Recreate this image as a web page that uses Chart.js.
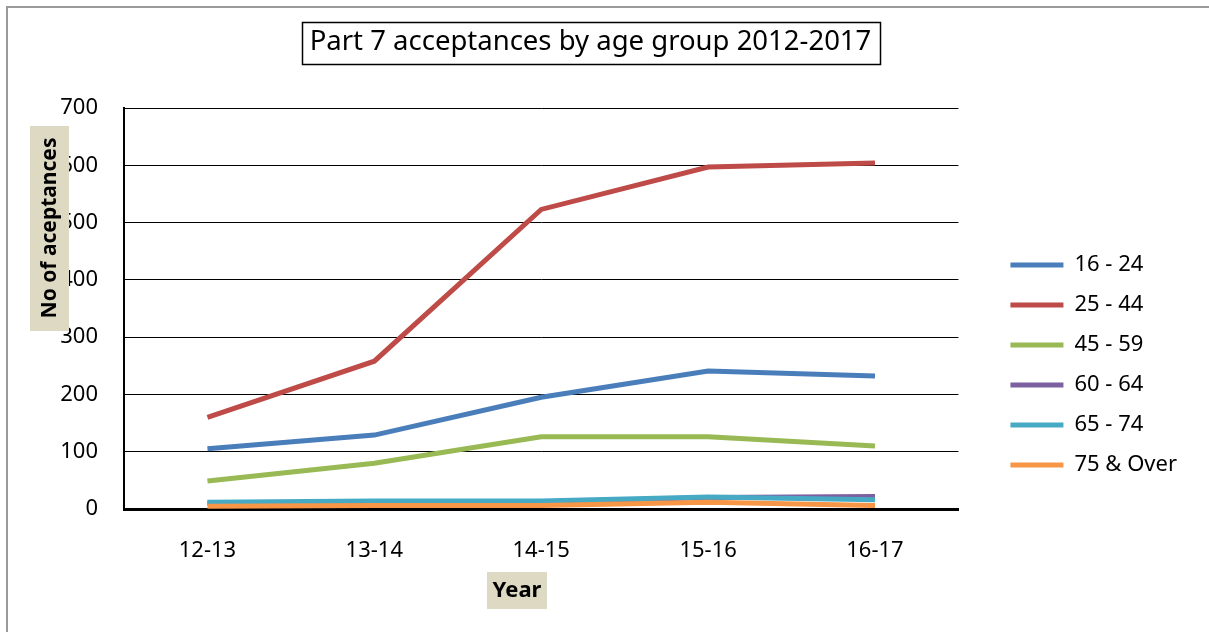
<!DOCTYPE html>
<html>
<head>
<meta charset="utf-8">
<script src="https://cdn.jsdelivr.net/npm/chart.js@4.4.1/dist/chart.umd.min.js"></script>
<style>
  body { margin: 0; background: #fff; }
  #wrap { width: 1209px; height: 632px; position: relative; }
</style>
</head>
<body>
<div id="wrap"><canvas id="ageChart"></canvas></div>
<script>
const years = ['12-13', '13-14', '14-15', '15-16', '16-17'];
const ageGroups = ['16 - 24', '25 - 44', '45 - 59', '60 - 64', '65 - 74', '75 & Over'];
const age16to24 = [105, 129, 195, 241, 232];
const age25to44 = [160, 258, 523, 597, 604];
const age45to59 = [49, 80, 126, 126, 110];
const age60to64 = [10, 12, 12, 20, 22];
const age65to74 = [12, 14, 14, 21, 16];
const age75over = [5, 6, 6, 12, 6];
const lineColours = ['#4A7EBB', '#BE4B48', '#98B954', '#7D60A0', '#46AAC5', '#F79646'];

const FONT = "'Noto Sans', 'Open Sans', sans-serif";
const TITLE_SHIFT = 3; // title sits a little left of the page centre
const seriesValues = [age16to24, age25to44, age45to59, age60to64, age65to74, age75over];

// later series sit on top of earlier ones
const datasets = ageGroups.map((name, i) => ({
  label: name,
  data: seriesValues[i],
  borderColor: lineColours[i],
  backgroundColor: lineColours[i],
  borderWidth: 5,
  pointRadius: 0,
  pointHoverRadius: 0,
  tension: 0,
  order: ageGroups.length - i
}));

// page frame, boxed title and the shaded axis captions
const decorations = {
  id: 'decorations',
  afterLayout(chart) {
    chart.titleBlock.left -= TITLE_SHIFT;
    chart.titleBlock.right -= TITLE_SHIFT;
  },
  beforeDraw(chart) {
    const ctx = chart.ctx;
    ctx.save();
    ctx.fillStyle = '#fff';
    ctx.fillRect(0, 0, chart.width, chart.height);
    ctx.strokeStyle = '#9a9a9a';
    ctx.lineWidth = 2;
    ctx.beginPath();
    ctx.moveTo(7, chart.height);
    ctx.lineTo(7, 7);
    ctx.lineTo(chart.width, 7);
    ctx.stroke();
    ctx.restore();
  },
  afterDraw(chart) {
    const ctx = chart.ctx;
    const area = chart.chartArea;
    const tb = chart.titleBlock;
    ctx.save();

    // box round the title text
    ctx.font = '27.5px ' + FONT;
    const tw = ctx.measureText(chart.options.plugins.title.text).width;
    const tcx = (tb.left + tb.right) / 2;
    ctx.strokeStyle = '#000';
    ctx.lineWidth = 1.5;
    ctx.strokeRect(Math.round(tcx - tw / 2 - 8) + 0.5, 22.5, Math.round(tw + 16), 42);

    // y axis caption
    ctx.fillStyle = '#DDD9C3';
    ctx.fillRect(area.left - 94, area.top + 18, 39, 205);
    ctx.save();
    ctx.translate(area.left - 74, area.top + 120);
    ctx.rotate(-Math.PI / 2);
    ctx.fillStyle = '#000';
    ctx.font = 'bold 21px ' + FONT;
    ctx.textAlign = 'center';
    ctx.textBaseline = 'middle';
    ctx.fillText('No of aceptances', 0, 0);
    ctx.restore();

    // x axis caption
    ctx.fillStyle = '#DDD9C3';
    ctx.fillRect(area.left + 363, area.bottom + 63, 60, 37);
    ctx.fillStyle = '#000';
    ctx.font = 'bold 22px ' + FONT;
    ctx.textAlign = 'center';
    ctx.textBaseline = 'middle';
    ctx.fillText('Year', area.left + 393, area.bottom + 82);
    ctx.restore();
  }
};

new Chart(document.getElementById('ageChart'), {
  type: 'line',
  data: { labels: years, datasets: datasets },
  plugins: [decorations],
  options: {
    responsive: true,
    maintainAspectRatio: false,
    animation: false,
    layout: { padding: { left: 0, right: 22, top: 0, bottom: 0 } },
    plugins: {
      tooltip: { enabled: false },
      title: {
        display: true,
        text: 'Part 7 acceptances by age group 2012-2017',
        color: '#000',
        font: { family: FONT, size: 27.5, weight: 'normal' },
        padding: { top: 26, bottom: 49 }
      },
      legend: {
        position: 'right',
        title: { display: true, text: '', font: { size: 10 }, padding: { top: 86, bottom: 0 } },
        labels: {
          color: '#000',
          font: { family: FONT, size: 22 },
          boxWidth: 53,
          boxHeight: 5,
          padding: 18,
          sort: (a, b) => a.datasetIndex - b.datasetIndex,
          generateLabels(chart) {
            const items = Chart.defaults.plugins.legend.labels.generateLabels(chart);
            return items.map(item => Object.assign(item, { lineWidth: 0 }));
          }
        }
      }
    },
    scales: {
      x: {
        offset: true,
        grid: { display: false, drawTicks: false },
        border: { color: '#000', width: 3 },
        ticks: { color: '#000', font: { family: FONT, size: 22 }, padding: 29 },
        afterFit(scale) { scale.height = 123; }
      },
      y: {
        min: 0,
        max: 700,
        grid: { color: '#000', lineWidth: 1, drawTicks: false },
        border: { color: '#000', width: 2 },
        ticks: {
          stepSize: 100,
          color: '#000',
          font: { family: FONT, size: 22 },
          padding: 26
        },
        afterFit(scale) { scale.width = 124; }
      },
      // empty strip between the plot and the legend
      gap: {
        type: 'linear',
        position: 'right',
        grid: { display: false, drawTicks: false },
        border: { display: false },
        ticks: { display: false },
        afterFit(scale) { scale.width = 34; }
      }
    }
  }
});
</script>
</body>
</html>
